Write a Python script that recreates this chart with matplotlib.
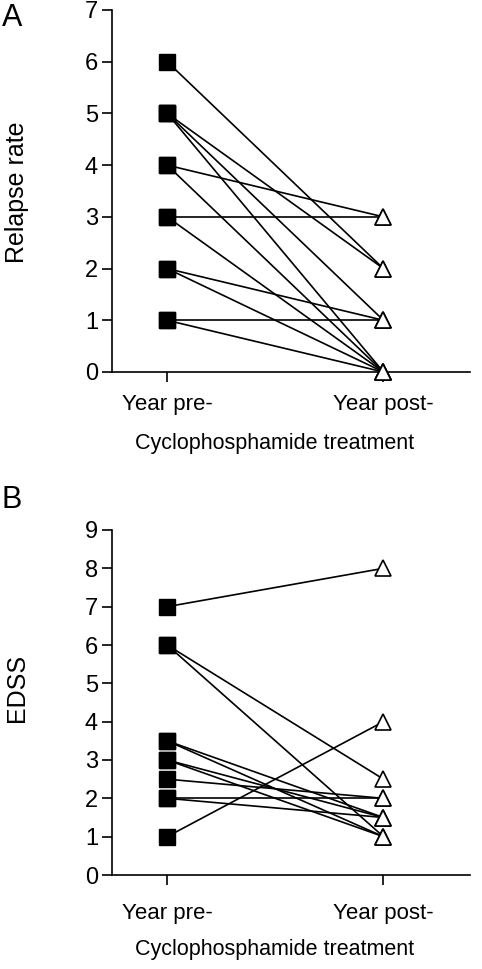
import matplotlib
matplotlib.use("Agg")
import matplotlib.pyplot as plt

plt.rcParams['font.family'] = ['Liberation Sans', 'DejaVu Sans']

# Panel A: relapse rate, year before -> year after cyclophosphamide
relapse_pre = [6, 5, 5, 5, 4, 4, 3, 3, 2, 2, 1, 1]
relapse_post = [2, 2, 1, 0, 3, 0, 3, 0, 1, 0, 1, 0]

# Panel B: EDSS, year before -> year after
edss_pre = [7, 6, 6, 3.5, 3.5, 3, 3, 2.5, 2, 2, 1]
edss_post = [8, 2.5, 1, 1.5, 1, 1.5, 1, 2, 2, 1.5, 4]

x_labels = ['Year pre-', 'Year post-']
x_title = 'Cyclophosphamide treatment'

fig = plt.figure(figsize=(4.82, 9.69), dpi=100)
W, H = 482, 969


def panel(rect_px, pre, post, ymax, ylabel, letter, ylab_y, letter_y, title_y, xpad):
    left, top, right, bottom = rect_px
    ax = fig.add_axes([left / W, 1 - bottom / H, (right - left) / W, (bottom - top) / H])
    for a, b in zip(pre, post):
        ax.plot([0, 1], [a, b], color='black', lw=1.2, zorder=2)
    ax.plot([0] * len(pre), pre, ls='none', marker='s', ms=12, mfc='black',
            mec='black', zorder=3, clip_on=False)
    ax.plot([1] * len(post), post, ls='none', marker='^', ms=12, mfc='white',
            mec='black', mew=1.2, zorder=3, clip_on=False)
    ax.set_xlim(-0.255, 1.40)
    ax.set_ylim(0, ymax)
    ax.set_yticks(range(ymax + 1))
    ax.set_xticks([0, 1])
    ax.set_xticklabels(x_labels)
    ax.spines['top'].set_visible(False)
    ax.spines['right'].set_visible(False)
    for s in ['left', 'bottom']:
        ax.spines[s].set_linewidth(1.2)
    ax.tick_params(axis='both', direction='out', length=7, width=1.2,
                   labelsize=17, pad=3)
    ax.tick_params(axis='x', labelsize=16, pad=xpad)
    fig.text(275 / W, 1 - title_y / H, x_title, ha='center', va='center', fontsize=15.5)
    fig.text(17 / W, 1 - ylab_y / H, ylabel, rotation=90, ha='center',
             va='center', fontsize=18)
    fig.text(2 / W, 1 - letter_y / H, letter, ha='left', va='center',
             fontsize=22)
    return ax


panel((112, 10, 470, 372), relapse_pre, relapse_post, 7, 'Relapse rate', 'A', 192, 18, 444, 9)
panel((112, 530, 470, 875), edss_pre, edss_post, 9, 'EDSS', 'B', 688, 500, 950, 13)

fig.savefig('out.png', dpi=100)
